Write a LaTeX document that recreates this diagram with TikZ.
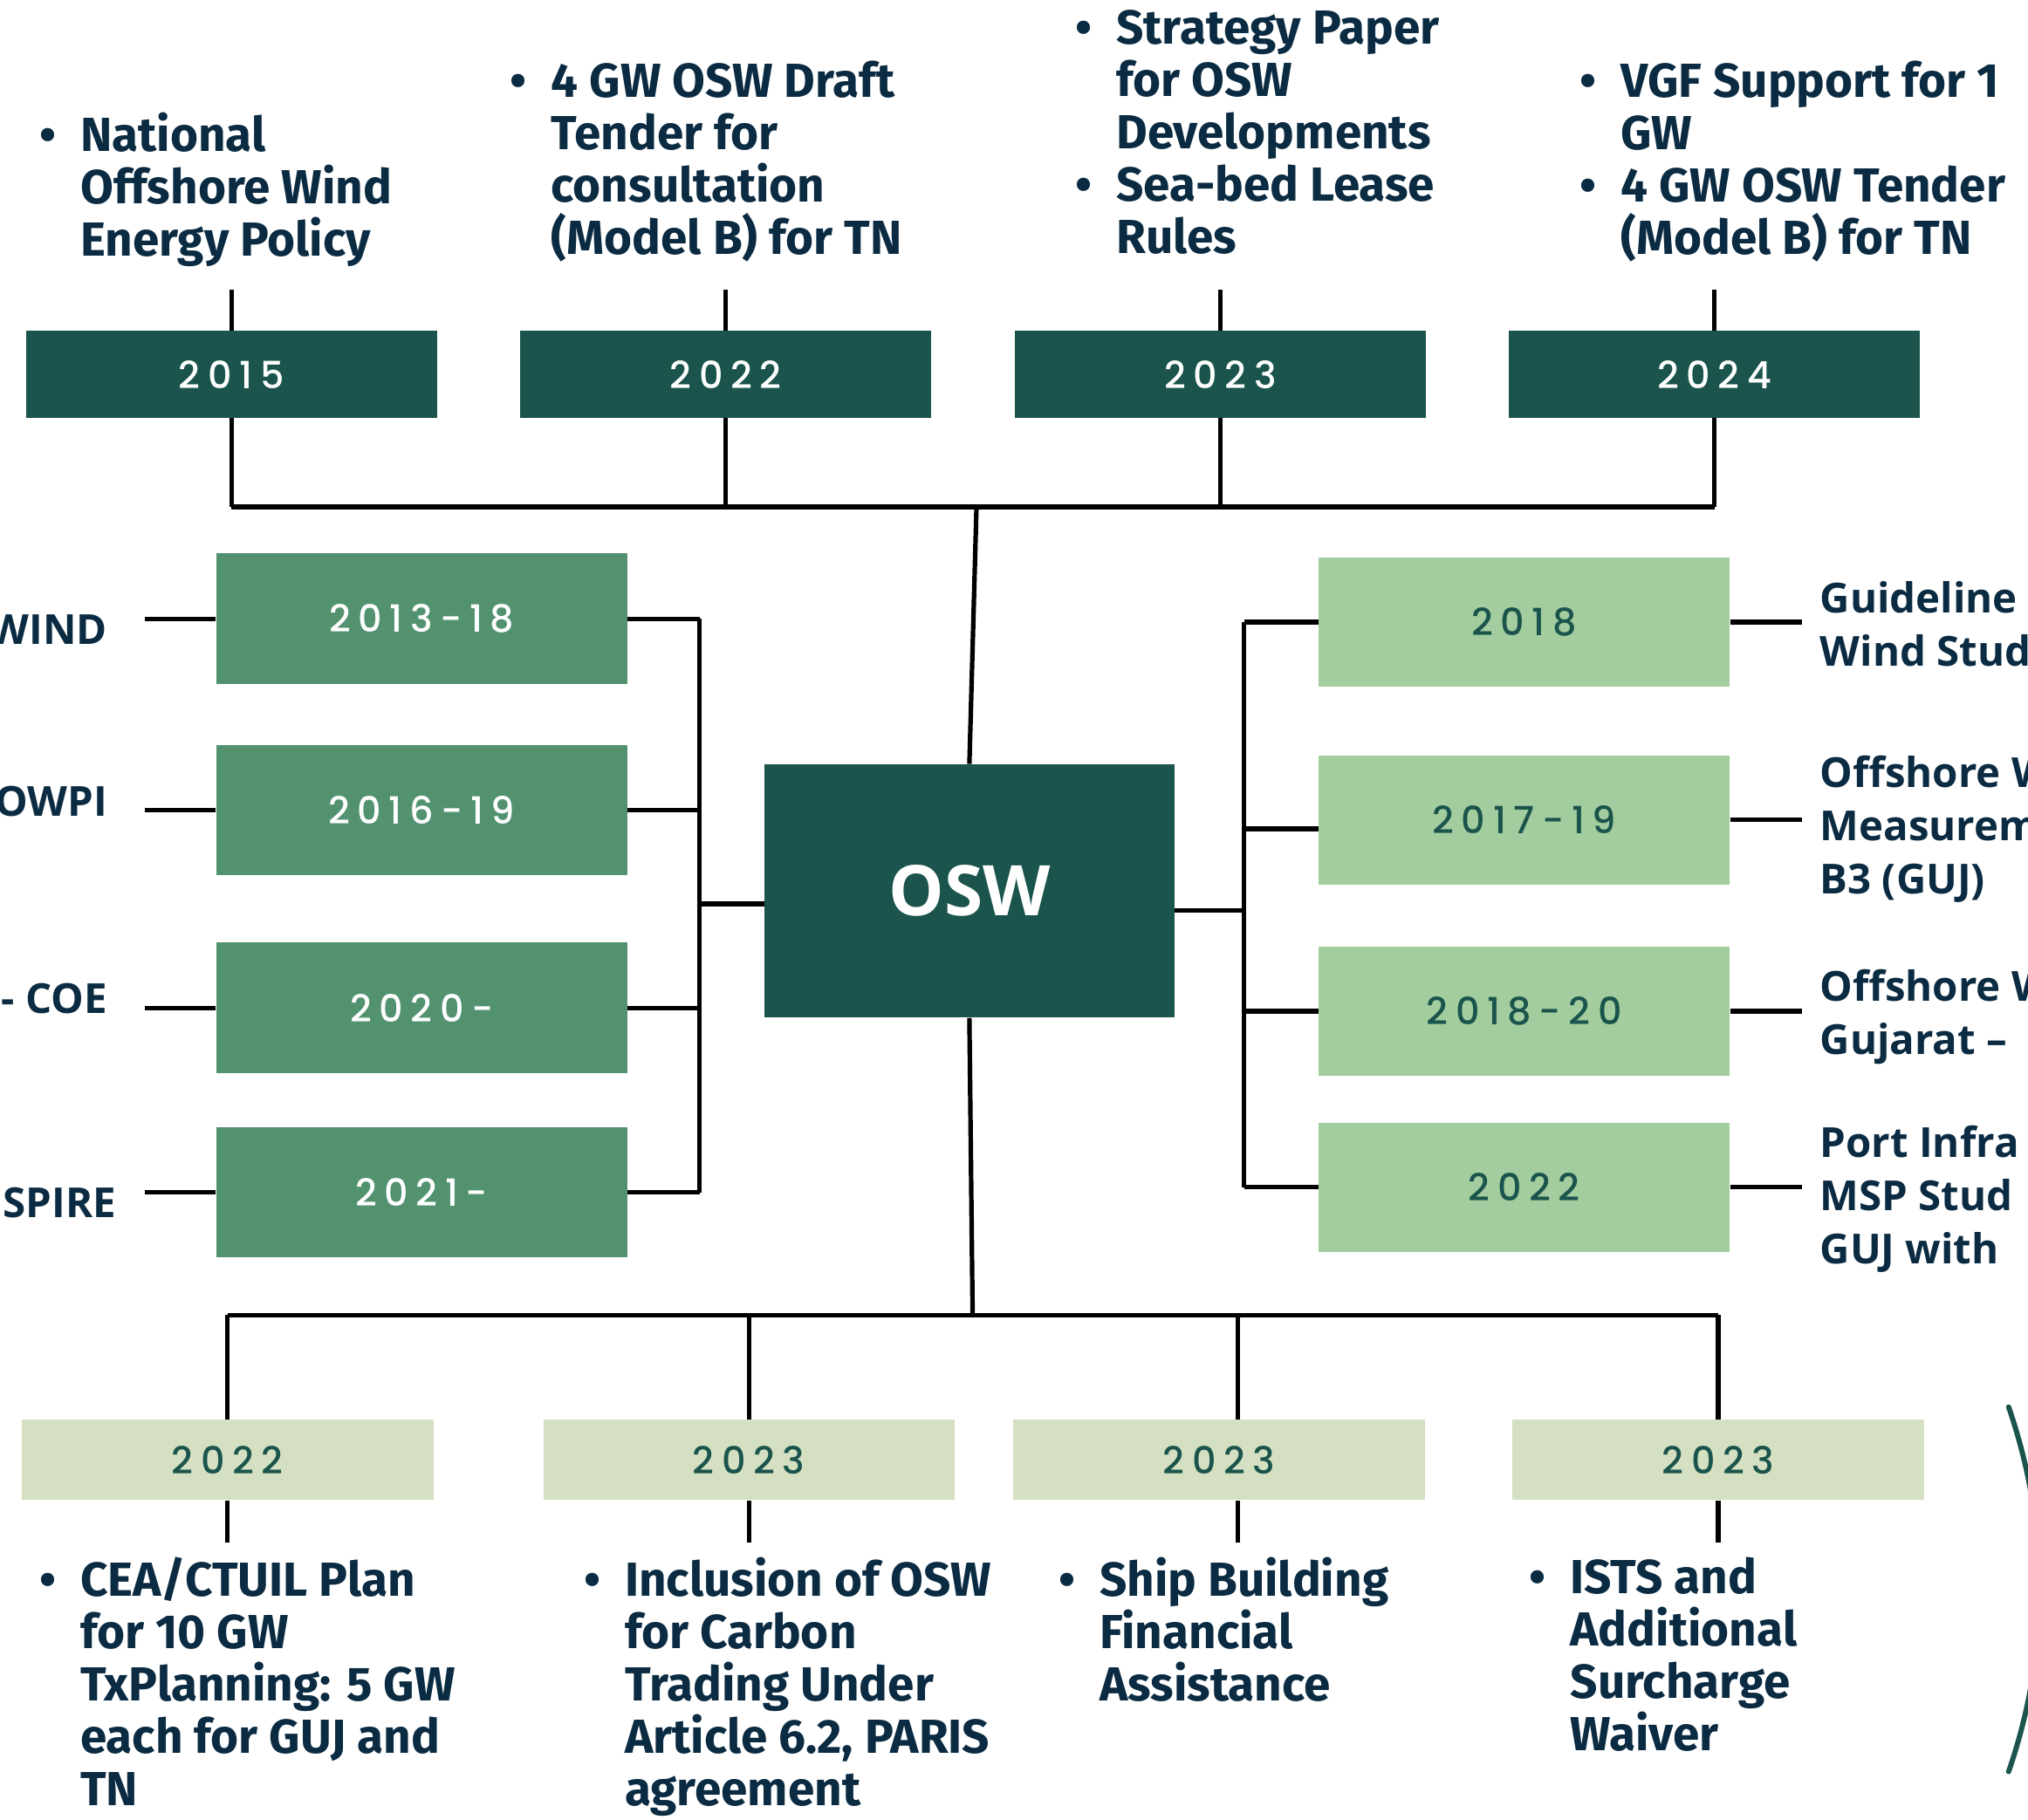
\documentclass[tikz,border=0pt]{standalone}
\usepackage{fontspec}
\setmainfont{Fira Sans}
\newfontfamily\widefont{Open Sans}
\newfontfamily\yearfont{Poppins Medium}[LetterSpace=20]
\usetikzlibrary{positioning}

\definecolor{oswdark}{HTML}{1A544C}
\definecolor{oswmid}{HTML}{52926F}
\definecolor{oswlight}{HTML}{A3CD9E}
\definecolor{oswpale}{HTML}{D4E0C1}
\definecolor{oswnavy}{HTML}{0B2B42}

\newcommand\bl{\llap{\textbullet\hspace{19pt}}}
\newcommand\fl{\rule{0pt}{28pt}}

\begin{document}
\begin{tikzpicture}[x=1pt,y=-1pt,
  link/.style={line width=3.5pt},
  yearbox/.style={minimum width=318pt,inner sep=0pt,font=\yearfont\fontsize{29}{32}\selectfont},
  topyr/.style={yearbox,minimum height=67pt,fill=oswdark,text=white},
  leftyr/.style={yearbox,minimum height=101pt,fill=oswmid,text=white},
  rightyr/.style={yearbox,minimum height=100pt,fill=oswlight,text=oswdark},
  botyr/.style={yearbox,minimum height=62pt,fill=oswpale,text=oswdark},
  note/.style={anchor=north west,inner sep=0pt,align=left,text=oswnavy,font=\bfseries\fontsize{37}{40.5}\selectfont},
  cut/.style={inner sep=0pt,align=left,text=oswnavy,font=\widefont\bfseries\fontsize{32}{41}\selectfont}]
\useasboundingbox (0,0) rectangle (1568,1407);

% hub
\node[fill=oswdark,text=white,minimum width=317pt,minimum height=196pt,inner sep=0pt,font=\widefont\bfseries\fontsize{54}{60}\selectfont] (osw) at (749.5,689) {OSW};

% top row
\node[topyr] (t15) at (179,289.5) {2015};
\node[topyr] (t22) at (561,289.5) {2022};
\node[topyr] (t23) at (943.5,289.5) {2023};
\node[topyr] (t24) at (1325.5,289.5) {2024};
\node[note] (n15) at (62,87) {\fl\bl National\\Offshore Wind\\Energy Policy};
\node[note] (n22) at (426,47) {\fl\bl 4 GW OSW Draft\\Tender for\\consultation\\(Model B) for TN};
\node[note] (n23) at (863,6) {\fl\bl Strategy Paper\\for OSW\\Developments\\\bl Sea-bed Lease\\Rules};
\node[note] (n24) at (1253,47) {\fl\bl VGF Support for 1\\GW\\\bl 4 GW OSW Tender\\(Model B) for TN};
\coordinate (tstub) at (0,224);
\coordinate (tbus) at (0,392);
\coordinate (hubtop) at (755,392);
\foreach \b in {t15,t22,t23,t24}
  \draw[link] (\b.north) -- (\b.north |- tstub) (\b.south) -- (\b.south |- tbus);
\draw[link] (t15.south |- tbus) -- (t24.south |- tbus);
\draw[link] (hubtop) -- (osw.north);

% left column
\node[leftyr] (l1) at (326,478.5) {2013-18};
\node[leftyr] (l2) at (326,626.5) {2016-19};
\node[leftyr] (l3) at (326,779.5) {2020-};
\node[leftyr] (l4) at (326,922) {2021-};
\node[cut,anchor=east] (c1) at (83,487) {WIND};
\node[cut,anchor=east] (c2) at (83,620) {OWPI};
\node[cut,anchor=east] (c3) at (83,772) {- COE};
\node[cut,anchor=east] (c4) at (90,930) {SPIRE};
\coordinate (lbus) at (541,0);
\coordinate (lstub) at (112,0);
\foreach \b in {l1,l2,l3,l4}
  \draw[link] (\b.east) -- (\b.east -| lbus) (\b.west) -- (\b.west -| lstub);
\draw[link] (l1.east -| lbus) -- (l4.east -| lbus);
\draw[link] ([yshift=-10pt]osw.west) -- ([yshift=-10pt]osw.west -| lbus);

% right column
\node[rightyr] (r1) at (1178.5,481) {2018};
\node[rightyr] (r2) at (1178.5,634) {2017-19};
\node[rightyr] (r3) at (1178.5,782) {2018-20};
\node[rightyr] (r4) at (1178.5,918) {2022};
\node[cut,anchor=north west] (d1) at (1407,446) {\fl Guideline\\Wind Stud};
\node[cut,anchor=north west] (d2) at (1407,581) {\fl Offshore W\\Measurem\\B3 (GUJ)};
\node[cut,anchor=north west] (d3) at (1407,746) {\fl Offshore W\\Gujarat –};
\node[cut,anchor=north west] (d4) at (1407,867) {\fl Port Infra\\MSP Stud\\GUJ with};
\coordinate (rbus) at (962,0);
\coordinate (rstub) at (1393,0);
\foreach \b in {r1,r3,r4}
  \draw[link] (\b.west) -- (\b.west -| rbus);
\draw[link] ([yshift=-7pt]r2.west) -- ([yshift=-7pt]r2.west -| rbus);
\foreach \b in {r1,r2,r3,r4}
  \draw[link] (\b.east) -- (\b.east -| rstub);
\draw[link] (r1.west -| rbus) -- (r4.west -| rbus);
\draw[link] ([yshift=-15pt]osw.east) -- ([yshift=-15pt]osw.east -| rbus);

% bottom row
\node[botyr] (b22) at (176,1129) {2022};
\node[botyr] (b23a) at (579,1129) {2023};
\node[botyr] (b23b) at (942.5,1129) {2023};
\node[botyr] (b23c) at (1328.5,1129) {2023};
\node[note] (m22) at (62,1204) {\fl\bl CEA/CTUIL Plan\\for 10 GW\\TxPlanning: 5 GW\\each for GUJ and\\TN};
\node[note] (m23a) at (483,1204) {\fl\bl Inclusion of OSW\\for Carbon\\Trading Under\\Article 6.2, PARIS\\agreement};
\node[note] (m23b) at (850,1204) {\fl\bl Ship Building\\Financial\\Assistance};
\node[note] (m23c) at (1214,1204) {\fl\bl ISTS and\\Additional\\Surcharge\\Waiver};
\coordinate (bbus) at (0,1017);
\coordinate (bstub) at (0,1193);
\coordinate (hubbot) at (752,1017);
\draw[link] (osw.south) -- (hubbot);
\foreach \b in {b22,b23a,b23c}
  \draw[link] (\b.north) -- (\b.north |- bbus) (\b.south) -- (\b.south |- bstub);
\draw[link] ([xshift=14.5pt]b23b.north) -- ([xshift=14.5pt]b23b.north |- bbus)
  ([xshift=14.5pt]b23b.south) -- ([xshift=14.5pt]b23b.south |- bstub);
\draw[link] (b22.north |- bbus) -- (b23c.north |- bbus);

% corner stroke
\draw[oswdark,line width=4pt,line cap=round] (1553,1088) .. controls (1585,1181) and (1585,1277) .. (1553,1370);
\end{tikzpicture}
\end{document}
